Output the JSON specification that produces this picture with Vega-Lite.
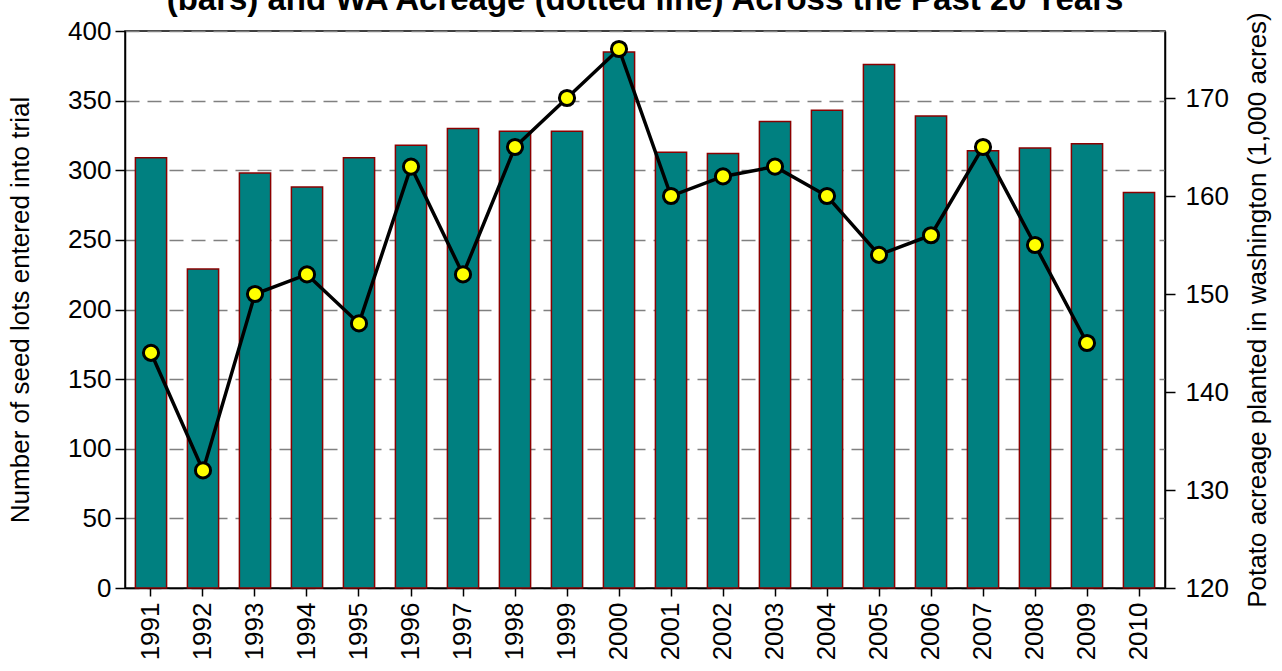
{
  "$schema": "https://vega.github.io/schema/vega-lite/v6.json",
  "width": 1040,
  "height": 557,
  "autosize": {"type": "none"},
  "padding": {"left": 125, "top": 31, "right": 117, "bottom": 83},
  "background": "white",
  "title": {
    "text": "(bars) and WA Acreage (dotted line) Across the Past 20 Years",
    "font": "Liberation Sans",
    "fontSize": 33,
    "fontWeight": "bold",
    "color": "black",
    "anchor": "middle",
    "frame": "group",
    "baseline": "alphabetic",
    "offset": -31
  },
  "config": {
    "view": {"stroke": "black", "strokeWidth": 1.5},
    "axis": {
      "labelFont": "Liberation Sans",
      "titleFont": "Liberation Sans",
      "labelFontSize": 26,
      "titleFontSize": 26,
      "titleFontWeight": "normal",
      "labelColor": "black",
      "titleColor": "black",
      "domainColor": "black",
      "tickColor": "black",
      "domainWidth": 1.5,
      "tickWidth": 1.5
    }
  },
  "data": {
    "values": [
      {"year": "1991", "seedlots": 309, "acreage": 144},
      {"year": "1992", "seedlots": 229, "acreage": 132},
      {"year": "1993", "seedlots": 298, "acreage": 150},
      {"year": "1994", "seedlots": 288, "acreage": 152},
      {"year": "1995", "seedlots": 309, "acreage": 147},
      {"year": "1996", "seedlots": 318, "acreage": 163},
      {"year": "1997", "seedlots": 330, "acreage": 152},
      {"year": "1998", "seedlots": 328, "acreage": 165},
      {"year": "1999", "seedlots": 328, "acreage": 170},
      {"year": "2000", "seedlots": 385, "acreage": 175},
      {"year": "2001", "seedlots": 313, "acreage": 160},
      {"year": "2002", "seedlots": 312, "acreage": 162},
      {"year": "2003", "seedlots": 335, "acreage": 163},
      {"year": "2004", "seedlots": 343, "acreage": 160},
      {"year": "2005", "seedlots": 376, "acreage": 154},
      {"year": "2006", "seedlots": 339, "acreage": 156},
      {"year": "2007", "seedlots": 314, "acreage": 165},
      {"year": "2008", "seedlots": 316, "acreage": 155},
      {"year": "2009", "seedlots": 319, "acreage": 145},
      {"year": "2010", "seedlots": 284, "acreage": null}
    ]
  },
  "encoding": {
    "x": {
      "field": "year",
      "type": "ordinal",
      "scale": {"paddingInner": 0.4, "paddingOuter": 0.2},
      "axis": {
        "title": null,
        "labelAngle": -90,
        "labelAlign": "right",
        "labelBaseline": "middle",
        "labelPadding": 6,
        "tickSize": 8,
        "domain": true
      }
    }
  },
  "layer": [
    {
      "mark": {"type": "bar", "fill": "#008080", "stroke": "#8B0000", "strokeWidth": 1.5},
      "encoding": {
        "y": {
          "field": "seedlots",
          "type": "quantitative",
          "scale": {"domain": [0, 400], "nice": false},
          "axis": {
            "title": "Number of seed lots entered into trial",
            "values": [0, 50, 100, 150, 200, 250, 300, 350, 400],
            "grid": true,
            "gridColor": "#808080",
            "gridDash": [14, 8],
            "gridWidth": 1.5,
            "tickSize": 10,
            "labelPadding": 4,
            "titlePadding": 34
          }
        }
      }
    },
    {
      "transform": [{"filter": "datum.acreage != null"}],
      "layer": [
        {
          "mark": {"type": "line", "color": "black", "strokeWidth": 3.5},
          "encoding": {
            "y": {
              "field": "acreage",
              "type": "quantitative",
              "scale": {"domain": [120, 176.84], "nice": false, "zero": false},
              "axis": {
                "orient": "right",
                "title": "Potato acreage planted in washington (1,000 acres)",
                "titleAngle": -90,
                "titleBaseline": "top",
                "values": [120, 130, 140, 150, 160, 170],
                "grid": false,
                "tickSize": 10,
                "labelPadding": 10,
                "titlePadding": 16
              }
            }
          }
        },
        {
          "mark": {"type": "point", "filled": true, "fill": "#FFFF00", "stroke": "black", "strokeWidth": 3, "size": 230, "opacity": 1},
          "encoding": {
            "y": {"field": "acreage", "type": "quantitative"}
          }
        }
      ]
    }
  ],
  "resolve": {"scale": {"y": "independent"}}
}
